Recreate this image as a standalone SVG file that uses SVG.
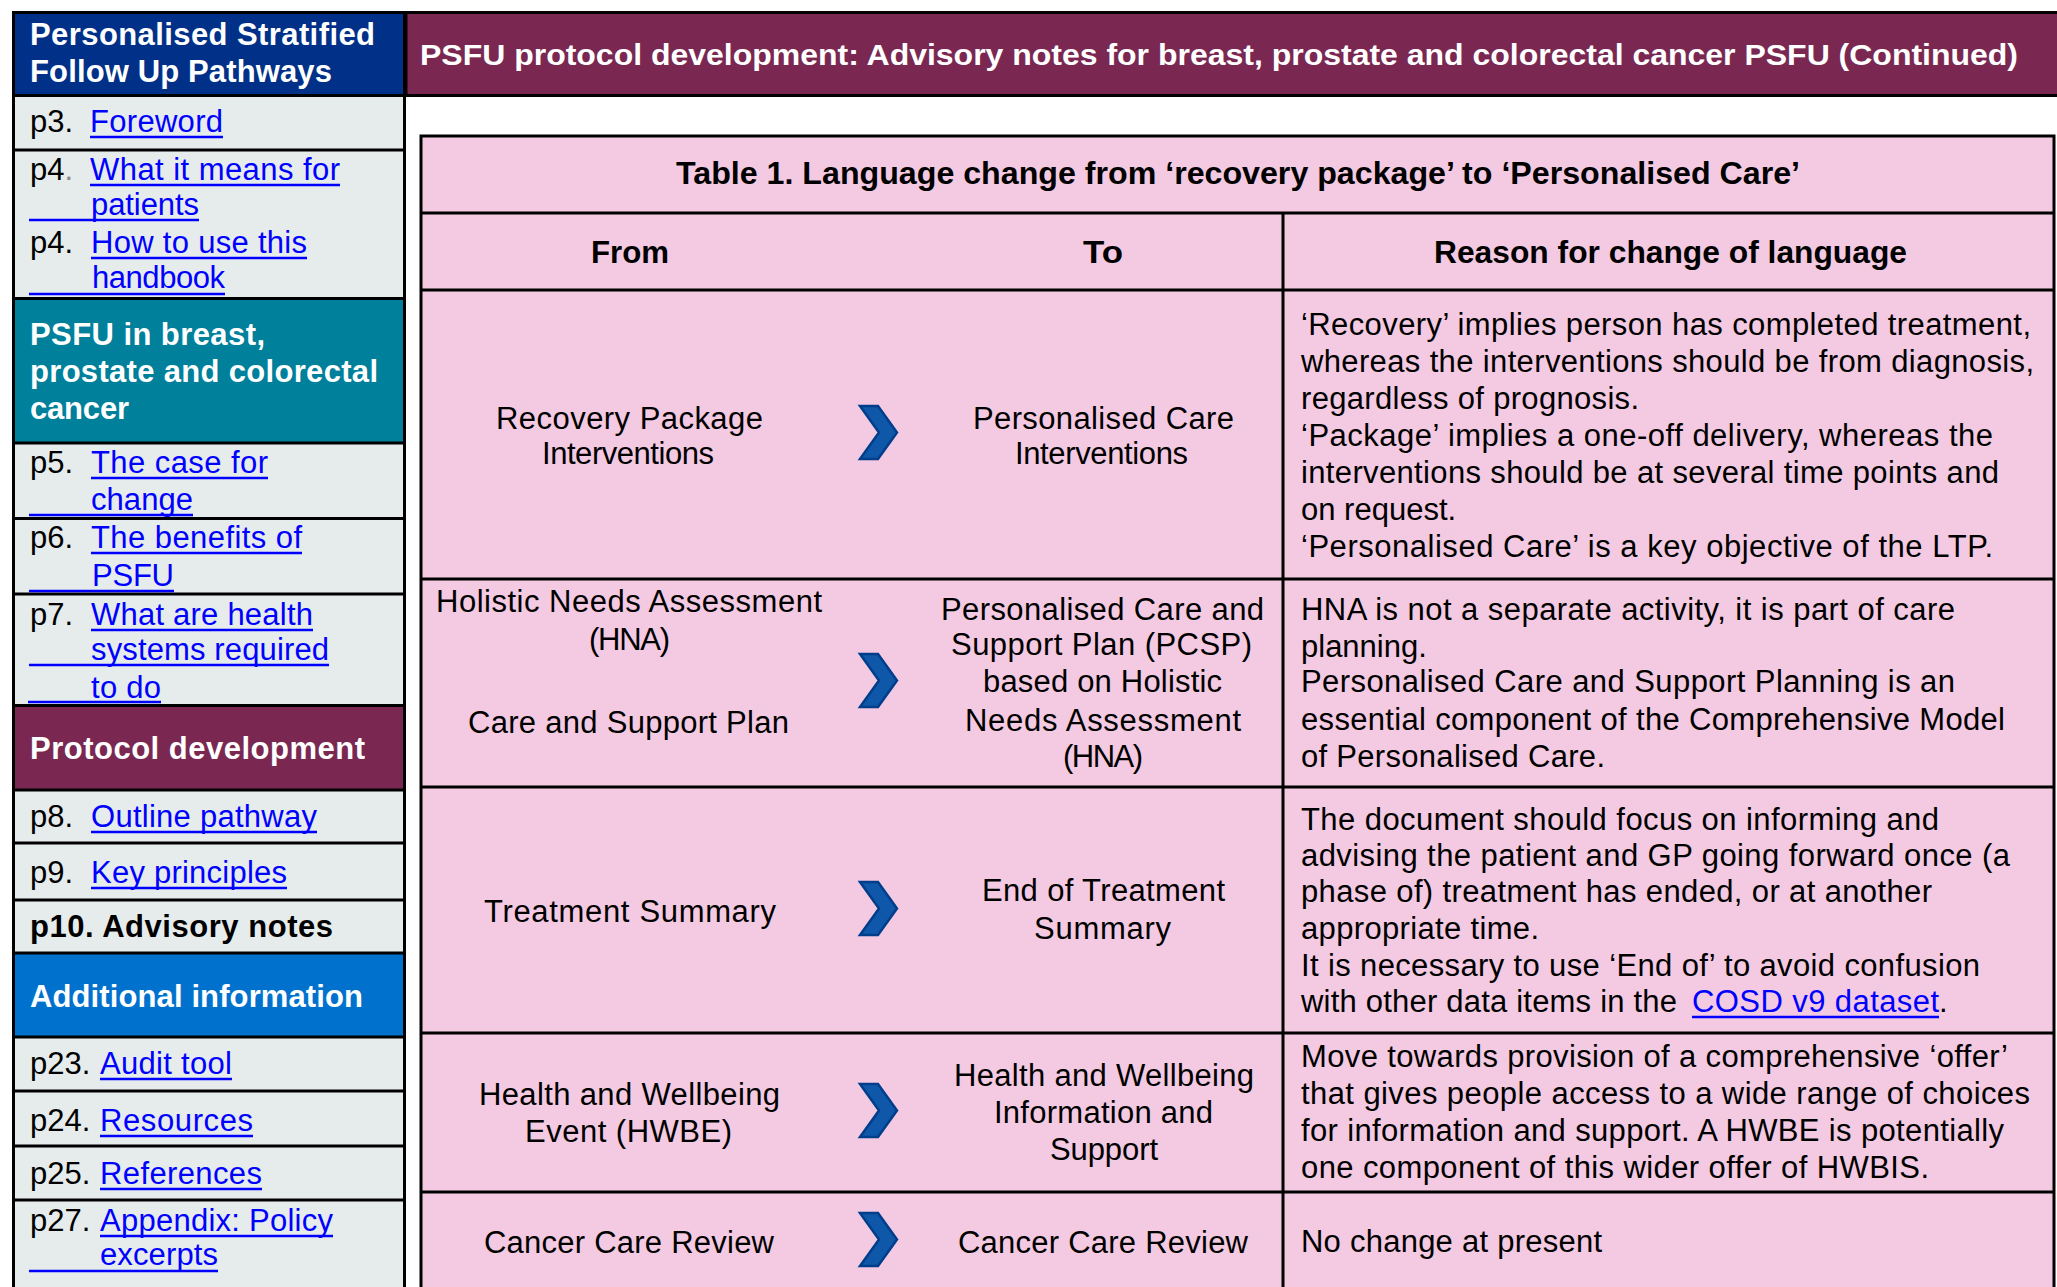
<svg xmlns="http://www.w3.org/2000/svg" width="2057" height="1287" viewBox="0 0 2057 1287">
<defs>
<style>
text{font-family:"Liberation Sans",Arial,sans-serif;}
.sb{font-size:31px;fill:#000;}
.lk{font-size:31px;fill:#0000FF;}
.hw{font-size:31px;font-weight:bold;fill:#fff;}
.bd{font-size:31px;font-weight:bold;fill:#000;}
.ul{stroke:#0000FF;stroke-width:2.5;}
.sep{stroke:#000;stroke-width:3;}
.tx{font-size:31px;fill:#000;}
.th{font-size:31px;font-weight:bold;fill:#000;}
.mh{font-size:30px;font-weight:bold;fill:#fff;}
</style>
<path id="chev" d="M0,0 L18,0 L37,26.5 L18,53 L0,53 L19,26.5 Z" fill="#0F57A8" stroke="#003E8C" stroke-width="2.5" stroke-linejoin="miter"/>
</defs>
<rect width="2057" height="1287" fill="#fff"/>

<!-- Sidebar -->
<g id="sidebar">
<rect x="13.5" y="12.5" width="391" height="1290" fill="#E6ECEC" stroke="#000" stroke-width="3"/>
<rect x="15" y="14" width="388" height="81" fill="#003087"/>
<rect x="15" y="299" width="388" height="144" fill="#00809B"/>
<rect x="15" y="706" width="388" height="84" fill="#7A2852"/>
<rect x="15" y="953" width="388" height="84" fill="#0072CE"/>
<g class="sep">
<line x1="13" y1="95.5" x2="405" y2="95.5"/>
<line x1="13" y1="150" x2="405" y2="150"/>
<line x1="13" y1="298.5" x2="405" y2="298.5"/>
<line x1="13" y1="443" x2="405" y2="443"/>
<line x1="13" y1="518.5" x2="405" y2="518.5"/>
<line x1="13" y1="594" x2="405" y2="594"/>
<line x1="13" y1="705.5" x2="405" y2="705.5"/>
<line x1="13" y1="790" x2="405" y2="790"/>
<line x1="13" y1="843" x2="405" y2="843"/>
<line x1="13" y1="900" x2="405" y2="900"/>
<line x1="13" y1="953" x2="405" y2="953"/>
<line x1="13" y1="1037" x2="405" y2="1037"/>
<line x1="13" y1="1091" x2="405" y2="1091"/>
<line x1="13" y1="1146" x2="405" y2="1146"/>
<line x1="13" y1="1200" x2="405" y2="1200"/>
</g>
<g id="sb-title">
<text class="hw" x="30" y="45" textLength="345">Personalised Stratified</text>
<text class="hw" x="30" y="82" textLength="302">Follow Up Pathways</text>
</g>
<g id="sb-p3">
<text class="sb" x="30" y="132">p3.</text>
<text class="lk" x="90" y="132" textLength="133">Foreword</text>
<line class="ul" x1="90" y1="137" x2="223" y2="137"/>
</g>
<g id="sb-p4a">
<text class="sb" x="30" y="180">p4<tspan fill="#888">.</tspan></text>
<text class="lk" x="90" y="180" textLength="250">What it means for</text>
<line class="ul" x1="90" y1="185" x2="340" y2="185"/>
<text class="lk" x="91" y="215" textLength="108">patients</text>
<line class="ul" x1="29" y1="220" x2="199" y2="220"/>
</g>
<g id="sb-p4b">
<text class="sb" x="30" y="253">p4.</text>
<text class="lk" x="91" y="253" textLength="216">How to use this</text>
<line class="ul" x1="91" y1="258" x2="307" y2="258"/>
<text class="lk" x="92" y="288" textLength="133">handbook</text>
<line class="ul" x1="29" y1="294" x2="225" y2="294"/>
</g>
<g id="sb-psfu">
<text class="hw" x="30" y="345" textLength="235">PSFU in breast,</text>
<text class="hw" x="30" y="382" textLength="348">prostate and colorectal</text>
<text class="hw" x="30" y="419" textLength="99">cancer</text>
</g>
<g id="sb-p5">
<text class="sb" x="30" y="473">p5.</text>
<text class="lk" x="91" y="473" textLength="177">The case for</text>
<line class="ul" x1="91" y1="478" x2="268" y2="478"/>
<text class="lk" x="91" y="510" textLength="102">change</text>
<line class="ul" x1="29" y1="515" x2="193" y2="515"/>
</g>
<g id="sb-p6">
<text class="sb" x="30" y="548">p6.</text>
<text class="lk" x="91" y="548" textLength="211">The benefits of</text>
<line class="ul" x1="91" y1="553" x2="302" y2="553"/>
<text class="lk" x="92" y="586" textLength="82">PSFU</text>
<line class="ul" x1="29" y1="591" x2="174" y2="591"/>
</g>
<g id="sb-p7">
<text class="sb" x="30" y="625">p7.</text>
<text class="lk" x="91" y="625" textLength="222">What are health</text>
<line class="ul" x1="91" y1="630" x2="313" y2="630"/>
<text class="lk" x="91" y="660" textLength="238">systems required</text>
<line class="ul" x1="29" y1="665" x2="329" y2="665"/>
<text class="lk" x="91" y="698" textLength="70">to do</text>
<line class="ul" x1="28" y1="702" x2="161" y2="702"/>
</g>
<g id="sb-protocol">
<text class="hw" x="30" y="759" textLength="335">Protocol development</text>
</g>
<g id="sb-p8">
<text class="sb" x="30" y="827">p8.</text>
<text class="lk" x="91" y="827" textLength="226">Outline pathway</text>
<line class="ul" x1="91" y1="832" x2="317" y2="832"/>
</g>
<g id="sb-p9">
<text class="sb" x="30" y="883">p9.</text>
<text class="lk" x="91" y="883" textLength="196">Key principles</text>
<line class="ul" x1="91" y1="888" x2="287" y2="888"/>
</g>
<g id="sb-p10">
<text class="bd" x="30" y="937" textLength="303">p10. Advisory notes</text>
</g>
<g id="sb-additional">
<text class="hw" x="30" y="1007" textLength="333">Additional information</text>
</g>
<g id="sb-p23">
<text class="sb" x="30" y="1074">p23.</text>
<text class="lk" x="100" y="1074" textLength="132">Audit tool</text>
<line class="ul" x1="100" y1="1079" x2="232" y2="1079"/>
</g>
<g id="sb-p24">
<text class="sb" x="30" y="1131">p24.</text>
<text class="lk" x="100" y="1131" textLength="153">Resources</text>
<line class="ul" x1="100" y1="1136" x2="253" y2="1136"/>
</g>
<g id="sb-p25">
<text class="sb" x="30" y="1184">p25.</text>
<text class="lk" x="100" y="1184" textLength="162">References</text>
<line class="ul" x1="100" y1="1189" x2="262" y2="1189"/>
</g>
<g id="sb-p27">
<text class="sb" x="30" y="1231">p27.</text>
<text class="lk" x="100" y="1231" textLength="233">Appendix: Policy</text>
<line class="ul" x1="100" y1="1236" x2="333" y2="1236"/>
<text class="lk" x="100" y="1265" textLength="118">excerpts</text>
<line class="ul" x1="29" y1="1271" x2="218" y2="1271"/>
</g>
</g>

<!-- Main header -->
<g id="main-header">
<rect x="406" y="12.5" width="1660" height="83" fill="#7A2852" stroke="#000" stroke-width="3"/>
<text class="mh" x="420" y="65" textLength="1598" lengthAdjust="spacingAndGlyphs">PSFU protocol development: Advisory notes for breast, prostate and colorectal cancer PSFU (Continued)</text>
</g>

<!-- Table -->
<g id="table">
<rect x="421" y="136" width="1633" height="1160" fill="#F3CAE1" stroke="#000" stroke-width="3"/>
<g class="sep">
<line x1="420" y1="213" x2="2055" y2="213"/>
<line x1="420" y1="290" x2="2055" y2="290"/>
<line x1="420" y1="579" x2="2055" y2="579"/>
<line x1="420" y1="787" x2="2055" y2="787"/>
<line x1="420" y1="1033" x2="2055" y2="1033"/>
<line x1="420" y1="1192" x2="2055" y2="1192"/>
<line x1="1283" y1="213" x2="1283" y2="1290"/>
</g>
<g id="table-title">
<text class="th" x="676" y="184" textLength="1124" lengthAdjust="spacingAndGlyphs">Table 1. Language change from ‘recovery package’ to ‘Personalised Care’</text>
</g>
<g id="col-headers">
<text class="th" x="591" y="263" textLength="78" lengthAdjust="spacingAndGlyphs">From</text>
<text class="th" x="1083" y="263" textLength="40" lengthAdjust="spacingAndGlyphs">To</text>
<text class="th" x="1434" y="263" textLength="473" lengthAdjust="spacingAndGlyphs">Reason for change of language</text>
</g>

<g id="row1">
<text class="tx" x="496" y="429" textLength="267">Recovery Package</text>
<text class="tx" x="542" y="464" textLength="172">Interventions</text>
<text class="tx" x="973" y="429" textLength="261">Personalised Care</text>
<text class="tx" x="1015" y="464" textLength="173">Interventions</text>
<text class="tx" x="1301" y="335" textLength="730">‘Recovery’ implies person has completed treatment,</text>
<text class="tx" x="1301" y="372" textLength="733">whereas the interventions should be from diagnosis,</text>
<text class="tx" x="1301" y="409" textLength="338">regardless of prognosis.</text>
<text class="tx" x="1301" y="446" textLength="692">‘Package’ implies a one-off delivery, whereas the</text>
<text class="tx" x="1301" y="483" textLength="698">interventions should be at several time points and</text>
<text class="tx" x="1301" y="520">on request.</text>
<text class="tx" x="1301" y="557" textLength="692">‘Personalised Care’ is a key objective of the LTP.</text>
</g>

<g id="row2">
<text class="tx" x="436" y="612" textLength="386">Holistic Needs Assessment</text>
<text class="tx" x="589" y="650" textLength="81">(HNA)</text>
<text class="tx" x="468" y="733" textLength="321">Care and Support Plan</text>
<text class="tx" x="941" y="620" textLength="323">Personalised Care and</text>
<text class="tx" x="951" y="655" textLength="301">Support Plan (PCSP)</text>
<text class="tx" x="983" y="692" textLength="239">based on Holistic</text>
<text class="tx" x="965" y="731" textLength="276">Needs Assessment</text>
<text class="tx" x="1063" y="767" textLength="80">(HNA)</text>
<text class="tx" x="1301" y="620" textLength="654">HNA is not a separate activity, it is part of care</text>
<text class="tx" x="1301" y="657">planning.</text>
<text class="tx" x="1301" y="692" textLength="654">Personalised Care and Support Planning is an</text>
<text class="tx" x="1301" y="730" textLength="704">essential component of the Comprehensive Model</text>
<text class="tx" x="1301" y="767" textLength="304">of Personalised Care.</text>
</g>

<g id="row3">
<text class="tx" x="484" y="922" textLength="292">Treatment Summary</text>
<text class="tx" x="982" y="901" textLength="243">End of Treatment</text>
<text class="tx" x="1034" y="939" textLength="137">Summary</text>
<text class="tx" x="1301" y="830" textLength="638">The document should focus on informing and</text>
<text class="tx" x="1301" y="866" textLength="709">advising the patient and GP going forward once (a</text>
<text class="tx" x="1301" y="902" textLength="631">phase of) treatment has ended, or at another</text>
<text class="tx" x="1301" y="939" textLength="238">appropriate time.</text>
<text class="tx" x="1301" y="976" textLength="679">It is necessary to use ‘End of’ to avoid confusion</text>
<text class="tx" x="1301" y="1012" textLength="376">with other data items in the</text>
<text class="lk" x="1692" y="1012" textLength="247">COSD v9 dataset</text>
<text class="tx" x="1939" y="1012">.</text>
<line class="ul" x1="1692" y1="1017" x2="1939" y2="1017"/>
</g>

<g id="row4">
<text class="tx" x="479" y="1105" textLength="301">Health and Wellbeing</text>
<text class="tx" x="525" y="1142" textLength="207">Event (HWBE)</text>
<text class="tx" x="954" y="1086" textLength="300">Health and Wellbeing</text>
<text class="tx" x="994" y="1123" textLength="219">Information and</text>
<text class="tx" x="1050" y="1160" textLength="108">Support</text>
<text class="tx" x="1301" y="1067" textLength="707">Move towards provision of a comprehensive ‘offer’</text>
<text class="tx" x="1301" y="1104" textLength="729">that gives people access to a wide range of choices</text>
<text class="tx" x="1301" y="1141" textLength="703">for information and support. A HWBE is potentially</text>
<text class="tx" x="1301" y="1178" textLength="628">one component of this wider offer of HWBIS.</text>
</g>

<g id="row5">
<text class="tx" x="484" y="1253" textLength="290">Cancer Care Review</text>
<text class="tx" x="958" y="1253" textLength="290">Cancer Care Review</text>
<text class="tx" x="1301" y="1252" textLength="301">No change at present</text>
</g>

<g id="chevrons">
<use href="#chev" x="860" y="406"/>
<use href="#chev" x="860" y="654"/>
<use href="#chev" x="860" y="882"/>
<use href="#chev" x="860" y="1084"/>
<use href="#chev" x="860" y="1213"/>
</g>
</g>
</svg>
